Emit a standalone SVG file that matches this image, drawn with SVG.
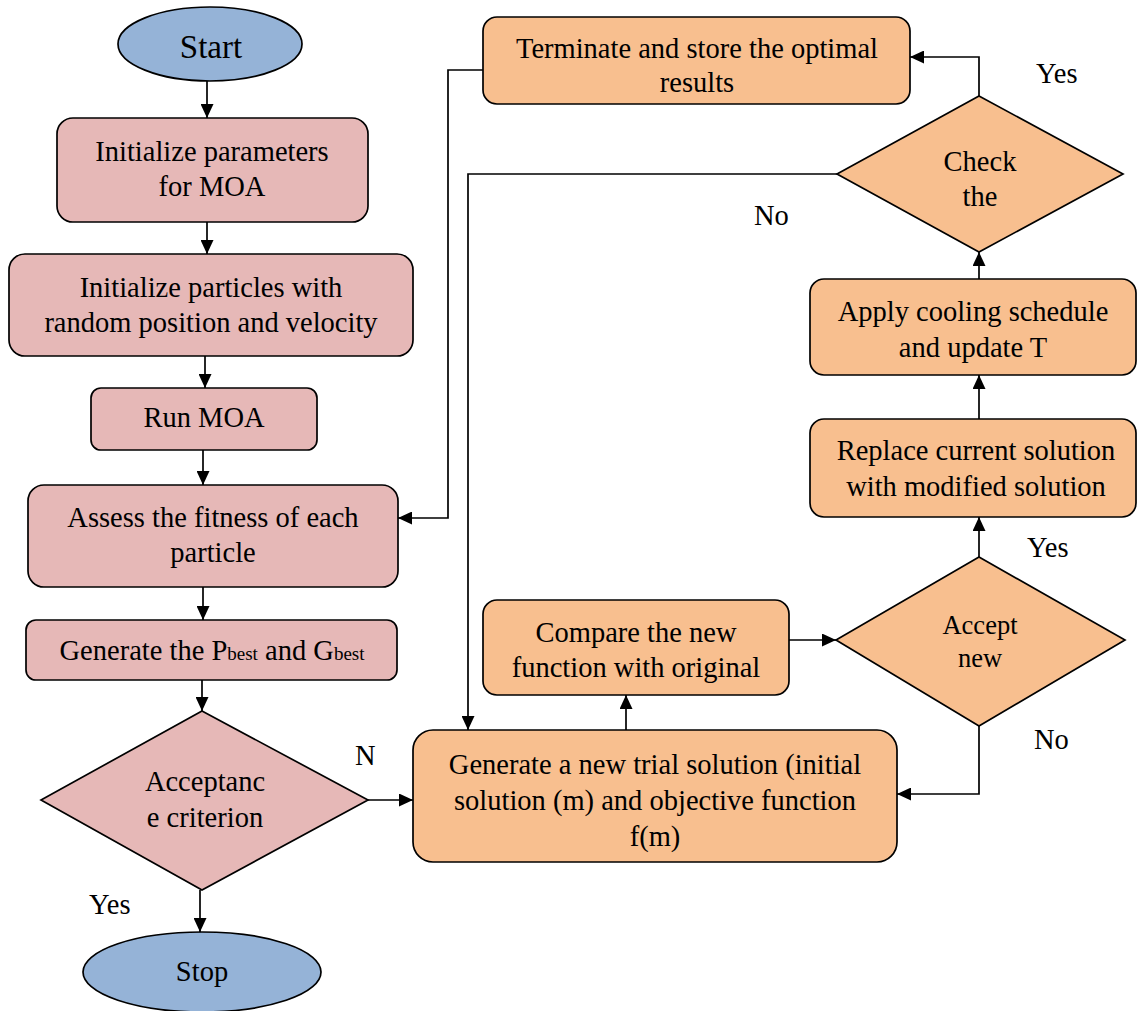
<svg xmlns="http://www.w3.org/2000/svg" width="1137" height="1011" viewBox="0 0 1137 1011">
<defs>
<marker id="ah" markerUnits="userSpaceOnUse" markerWidth="15" markerHeight="13" refX="14" refY="6.5" orient="auto">
<path d="M0,0 L14,6.5 L0,13 Z" fill="#000"/>
</marker>
</defs>
<style>
.pk{fill:#E6B8B7;stroke:#000;stroke-width:1.7}
.or{fill:#F8BF8F;stroke:#000;stroke-width:1.7}
.bl{fill:#95B3D7;stroke:#000;stroke-width:1.7}
text{font-size:28.5px;fill:#000;text-anchor:middle}
.lb{text-anchor:start}
.sb{font-size:19px}
.c line,.c polyline{stroke:#000;stroke-width:1.7;fill:none;marker-end:url(#ah)}
</style>
<rect width="1137" height="1011" fill="#fff"/>
<g font-family="'Liberation Serif', 'Times New Roman', 'DejaVu Serif', serif">
<g id="start"><ellipse class="bl" cx="210" cy="44" rx="92" ry="37"/><text x="211" y="58" style="font-size:33px">Start</text></g>
<g id="init-params"><rect class="pk" x="57" y="118" width="311" height="104" rx="16"/><text x="212" y="161">Initialize parameters</text><text x="212" y="196">for MOA</text></g>
<g id="init-particles"><rect class="pk" x="9" y="254" width="404" height="102" rx="16"/><text x="211" y="297">Initialize particles with</text><text x="211" y="332">random position and velocity</text></g>
<g id="run-moa"><rect class="pk" x="91" y="388" width="226" height="62" rx="10"/><text x="204" y="427">Run MOA</text></g>
<g id="assess"><rect class="pk" x="28" y="485" width="370" height="102" rx="16"/><text x="213" y="527">Assess the fitness of each</text><text x="213" y="562">particle</text></g>
<g id="gen-best"><rect class="pk" x="26" y="620" width="371" height="60" rx="10"/><text x="212" y="660">Generate the P<tspan class="sb">best</tspan> and G<tspan class="sb">best</tspan></text></g>
<g id="accept-crit"><polygon class="pk" points="202,711 368,800 202,890 41,800"/><text x="205" y="791">Acceptanc</text><text x="205" y="827">e criterion</text></g>
<g id="stop"><ellipse class="bl" cx="202" cy="972" rx="119" ry="40"/><text x="202" y="981">Stop</text></g>
<g id="terminate"><rect class="or" x="483" y="17" width="427" height="87" rx="14"/><text x="697" y="58">Terminate and store the optimal</text><text x="697" y="92">results</text></g>
<g id="check"><polygon class="or" points="979,96 1123,174 979,252 837,174"/><text x="980" y="171">Check</text><text x="980" y="206">the</text></g>
<g id="cooling"><rect class="or" x="810" y="279" width="326" height="96" rx="14"/><text x="973" y="321">Apply cooling schedule</text><text x="973" y="357">and update T</text></g>
<g id="replace"><rect class="or" x="810" y="419" width="326" height="98" rx="14"/><text x="976" y="460">Replace current solution</text><text x="976" y="496">with modified solution</text></g>
<g id="accept-new"><polygon class="or" points="979,557 1125,640 979,726 836,640"/><text x="980" y="634" style="font-size:26.5px">Accept</text><text x="980" y="667" style="font-size:26.5px">new</text></g>
<g id="compare"><rect class="or" x="483" y="600" width="306" height="95" rx="14"/><text x="636" y="642">Compare the new</text><text x="636" y="677">function with original</text></g>
<g id="generate"><rect class="or" x="413" y="730" width="484" height="132" rx="20"/><text x="655" y="774">Generate a new trial solution (initial</text><text x="655" y="810">solution (m) and objective function</text><text x="655" y="846">f(m)</text></g>
<g id="labels">
<text class="lb" x="89" y="914">Yes</text>
<text class="lb" x="355" y="765">N</text>
<text class="lb" x="1036" y="83">Yes</text>
<text class="lb" x="754" y="225">No</text>
<text class="lb" x="1027" y="557">Yes</text>
<text class="lb" x="1034" y="749">No</text>
</g>
</g>
<g id="connectors" class="c">
<line x1="207" y1="81" x2="207" y2="118"/>
<line x1="207" y1="222" x2="207" y2="254"/>
<line x1="205" y1="356" x2="205" y2="388"/>
<line x1="203" y1="450" x2="203" y2="485"/>
<line x1="203" y1="587" x2="203" y2="620"/>
<line x1="202" y1="680" x2="202" y2="711"/>
<line x1="200" y1="890" x2="200" y2="932"/>
<line x1="368" y1="800" x2="413" y2="800"/>
<polyline points="483,70 448,70 448,518 398,518"/>
<polyline points="979,96 979,57 910,57"/>
<polyline points="837,174 468,174 468,730"/>
<line x1="979" y1="279" x2="979" y2="252"/>
<line x1="979" y1="419" x2="979" y2="375"/>
<line x1="979" y1="557" x2="979" y2="517"/>
<polyline points="979,726 979,794 897,794"/>
<line x1="789" y1="640" x2="836" y2="640"/>
<line x1="626" y1="730" x2="626" y2="695"/>
</g>
</svg>
